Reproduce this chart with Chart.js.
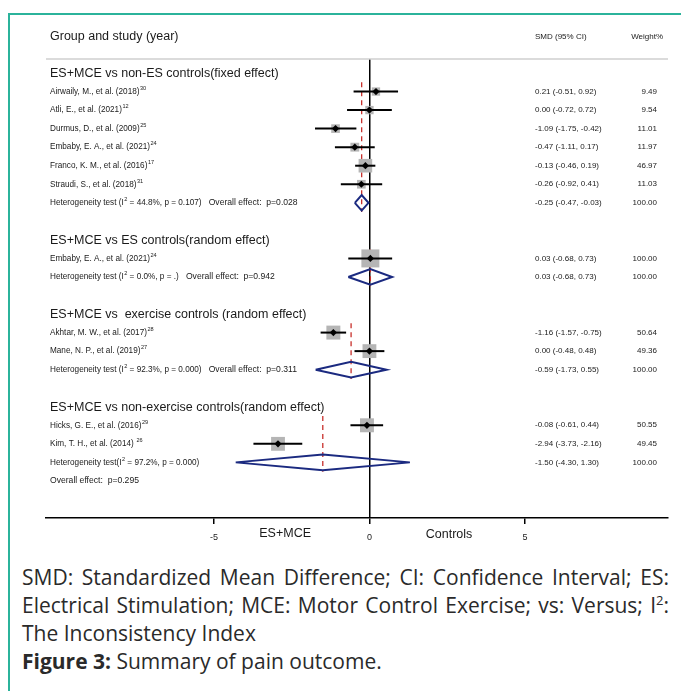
<!DOCTYPE html>
<html>
<head>
<meta charset="utf-8">
<script src="https://cdn.jsdelivr.net/npm/chart.js@4.4.0/dist/chart.umd.min.js"></script>
<style>
    html, body { margin: 0; padding: 0; background: #fff; }
    body { width: 681px; height: 691px; position: relative; overflow: hidden; }
    #frame { position: absolute; left: 8px; top: 13px; right: 0; bottom: -4px;
             border-left: 2px solid #2bb39b; border-top: 2px solid #2bb39b; }
    #plot { position: absolute; left: 0; top: 0; }
    #caption { position: absolute; left: 22px; top: 563px; width: 647px;
               font-family: "Open Sans", sans-serif; font-size: 21px; line-height: 28px; color: #2a2a2a; }
    .j { text-align: justify; text-align-last: justify; white-space: nowrap; }
    sup { font-size: 13px; line-height: 0; }
</style>
</head>
<body>
<div id="frame"></div>
<canvas id="plot" width="681" height="555"></canvas>
<div id="caption">
    <div class="j">SMD: Standardized Mean Difference; CI: Confidence Interval; ES:</div>
    <div class="j">Electrical Stimulation; MCE: Motor Control Exercise; vs: Versus; I<sup>2</sup>:</div>
    <div>The Inconsistency Index</div>
    <div><b>Figure 3:</b> Summary of pain outcome.</div>
</div>
<script>
// Forest plot data
const groupTitles = [
    'ES+MCE vs non-ES controls(fixed effect)',
    'ES+MCE vs ES controls(random effect)',
    'ES+MCE vs  exercise controls (random effect)',
    'ES+MCE vs non-exercise controls(random effect)'
];
const studyLabels = [
    'Airwaily, M., et al. (2018)', 'Atli, E., et al. (2021)', 'Durmus, D., et al. (2009)',
    'Embaby, E. A., et al. (2021)', 'Franco, K. M., et al. (2016)', 'Straudi, S., et al. (2018)',
    'Embaby, E. A., et al. (2021)',
    'Akhtar, M. W., et al. (2017)', 'Mane, N. P., et al. (2019)',
    'Hicks, G. E., et al. (2016)', 'Kim, T. H., et al. (2014) '
];
const studyRefs  = ['30', '12', '25', '24', '17', '31', '24', '28', '27', '29', '26'];
const studyGroup = [0, 0, 0, 0, 0, 0, 1, 2, 2, 3, 3];
const smd    = [0.21, 0.00, -1.09, -0.47, -0.13, -0.26, 0.03, -1.16, 0.00, -0.08, -2.94];
const ciLow  = [-0.51, -0.72, -1.75, -1.11, -0.46, -0.92, -0.68, -1.57, -0.48, -0.61, -3.73];
const ciHigh = [0.92, 0.72, -0.42, 0.17, 0.19, 0.41, 0.73, -0.75, 0.48, 0.44, -2.16];
const weights = [9.49, 9.54, 11.01, 11.97, 46.97, 11.03, 100.00, 50.64, 49.36, 50.55, 49.45];

const pooledSmd  = [-0.25, 0.03, -0.59, -1.50];
const pooledLow  = [-0.47, -0.68, -1.73, -4.30];
const pooledHigh = [-0.03, 0.73, 0.55, 1.30];
const hetI2 = ['44.8%', '0.0%', '92.3%', '97.2%'];
const hetP  = ['0.107', '.', '0.000', '0.000'];
const groupP = ['0.028', '0.942', '0.311', null];
const overallP = '0.295';

const tickValues = [-5, 0, 5];

// row layout: title, studies, heterogeneity row, blank row
const titleRow = [], hetRow = [], firstRow = [], studyRow = [];
let r = 0;
groupTitles.forEach((t, g) => {
    titleRow.push(r++);
    firstRow.push(r);
    studyGroup.forEach((sg, i) => { if (sg === g) studyRow[i] = r++; });
    hetRow.push(r);
    r += (g < groupTitles.length - 1) ? 2 : 1;
});
const overallRow = r;

const FONT = '"Liberation Sans", Arial, sans-serif';
const NAVY = '#1b2a80';
const diamondHalf = 0.42;

const datasets = [];

// gray weight squares
datasets.push({
    data: smd.map((v, i) => ({ x: v, y: studyRow[i] })),
    pointStyle: 'rect',
    pointRadius: weights.map(w => (4 + 14 * Math.sqrt(w / 100)) / Math.SQRT2),
    backgroundColor: '#b5b5b5',
    borderWidth: 0,
    order: 3
});

// confidence interval lines
smd.forEach((v, i) => {
    datasets.push({
        showLine: true,
        data: [{ x: ciLow[i], y: studyRow[i] }, { x: ciHigh[i], y: studyRow[i] }],
        borderColor: '#000',
        borderWidth: 2,
        pointRadius: 0,
        order: 1
    });
});

// point estimates
datasets.push({
    data: smd.map((v, i) => ({ x: v, y: studyRow[i] })),
    pointStyle: 'rectRot',
    pointRadius: 3.6,
    backgroundColor: '#000',
    borderWidth: 0,
    order: 0
});

// pooled estimate: dashed line + diamond
pooledSmd.forEach((v, g) => {
    datasets.push({
        showLine: true,
        data: [{ x: v, y: firstRow[g] - 0.5 }, { x: v, y: hetRow[g] + 0.5 }],
        borderColor: '#c8302c',
        borderWidth: 1.3,
        borderDash: [5, 4],
        pointRadius: 0,
        order: 4
    });
    const row = hetRow[g];
    datasets.push({
        showLine: true,
        data: [
            { x: pooledLow[g], y: row },
            { x: v, y: row - diamondHalf },
            { x: pooledHigh[g], y: row },
            { x: v, y: row + diamondHalf },
            { x: pooledLow[g], y: row }
        ],
        borderColor: NAVY,
        borderWidth: 2,
        borderJoinStyle: 'miter',
        pointRadius: 0,
        fill: false,
        order: 1
    });
});

function supText(ctx, text, sup, x, y, size) {
    ctx.font = size + 'px ' + FONT;
    ctx.fillText(text, x, y);
    const w = ctx.measureText(text).width;
    ctx.font = (size * 0.68) + 'px ' + FONT;
    ctx.fillText(sup, x + w + 0.5, y - size * 0.4);
    ctx.font = size + 'px ' + FONT;
    return x + w + 0.5 + ctx.measureText(sup).width * 0.68;
}

const forestText = {
    id: 'forestText',
    afterDatasetsDraw(chart) {
        const ctx = chart.ctx, xs = chart.scales.x, ys = chart.scales.y, area = chart.chartArea;
        ctx.save();
        // header rule
        ctx.strokeStyle = '#cfcfcf';
        ctx.lineWidth = 1.5;
        ctx.beginPath();
        ctx.moveTo(area.left, area.top);
        ctx.lineTo(area.right, area.top);
        ctx.stroke();

        ctx.fillStyle = '#1a1a1a';
        ctx.textBaseline = 'middle';
        const lx = 50, cx = 535, wx = 657;

        ctx.textAlign = 'left';
        ctx.font = '12.5px ' + FONT;
        ctx.fillText('Group and study (year)', lx, ys.getPixelForValue(-1.95));
        ctx.font = '8px ' + FONT;
        ctx.fillText('SMD (95% CI)', cx, ys.getPixelForValue(-1.95));
        ctx.textAlign = 'right';
        ctx.fillText('Weight%', 663, ys.getPixelForValue(-1.95));

        groupTitles.forEach((t, g) => {
            ctx.textAlign = 'left';
            ctx.font = '12.5px ' + FONT;
            ctx.fillText(t, lx, ys.getPixelForValue(titleRow[g]) + 1);

            // heterogeneity line
            const yy = ys.getPixelForValue(hetRow[g]);
            const pre = g === 3 ? 'Heterogeneity test(I' : 'Heterogeneity test (I';
            let x = supText(ctx, pre, '2', lx, yy, 8.2);
            const rest = ' = ' + hetI2[g] + ', p = ' + hetP[g] + ')';
            ctx.font = '8.2px ' + FONT;
            ctx.fillText(rest, x, yy);
            x += ctx.measureText(rest).width;
            if (groupP[g]) {
                ctx.font = '8.6px ' + FONT;
                ctx.fillText('   Overall effect:  p=' + groupP[g], x, yy);
            }
            ctx.font = '8px ' + FONT;
            ctx.fillText(pooledSmd[g].toFixed(2) + ' (' + pooledLow[g].toFixed(2) + ', ' + pooledHigh[g].toFixed(2) + ')', cx, yy);
            ctx.textAlign = 'right';
            ctx.fillText('100.00', wx, yy);
        });

        studyLabels.forEach((s, i) => {
            const yy = ys.getPixelForValue(studyRow[i]);
            ctx.textAlign = 'left';
            supText(ctx, s, studyRefs[i], lx, yy, 8.2);
            ctx.font = '8px ' + FONT;
            ctx.fillText(smd[i].toFixed(2) + ' (' + ciLow[i].toFixed(2) + ', ' + ciHigh[i].toFixed(2) + ')', cx, yy);
            ctx.textAlign = 'right';
            ctx.fillText(weights[i].toFixed(2), wx, yy);
        });

        ctx.textAlign = 'left';
        ctx.font = '8.6px ' + FONT;
        ctx.fillText('Overall effect:  p=' + overallP, lx, ys.getPixelForValue(overallRow));

        // axis side labels
        ctx.textAlign = 'center';
        ctx.font = '12.5px ' + FONT;
        ctx.fillText('ES+MCE', xs.getPixelForValue(-2.71), 534);
        ctx.fillText('Controls', xs.getPixelForValue(2.56), 535);
        ctx.restore();
    }
};

new Chart(document.getElementById('plot'), {
    type: 'scatter',
    data: { datasets: datasets },
    options: {
        responsive: false,
        animation: false,
        events: [],
        layout: { padding: { left: 46, right: 13, top: 59, bottom: 0 } },
        plugins: { legend: { display: false }, tooltip: { enabled: false } },
        scales: {
            x: {
                type: 'linear',
                min: -10.4,
                max: 9.6,
                afterBuildTicks: s => { s.ticks = tickValues.map(v => ({ value: v })); },
                afterFit: s => { s.height = 37; },
                border: { display: true, color: '#000', width: 1.5 },
                grid: {
                    drawOnChartArea: true,
                    color: c => (c.tick && c.tick.value === 0) ? '#000' : 'rgba(0,0,0,0)',
                    lineWidth: 1.5,
                    tickColor: '#000',
                    tickWidth: 1.5,
                    tickLength: 6
                },
                ticks: {
                    color: '#222',
                    padding: 8,
                    maxRotation: 0,
                    font: { family: FONT, size: 9 },
                    callback: v => String(v)
                }
            },
            y: {
                type: 'linear',
                display: false,
                reverse: true,
                min: -0.755,
                max: 24
            }
        }
    },
    plugins: [forestText]
});
</script>
</body>
</html>
